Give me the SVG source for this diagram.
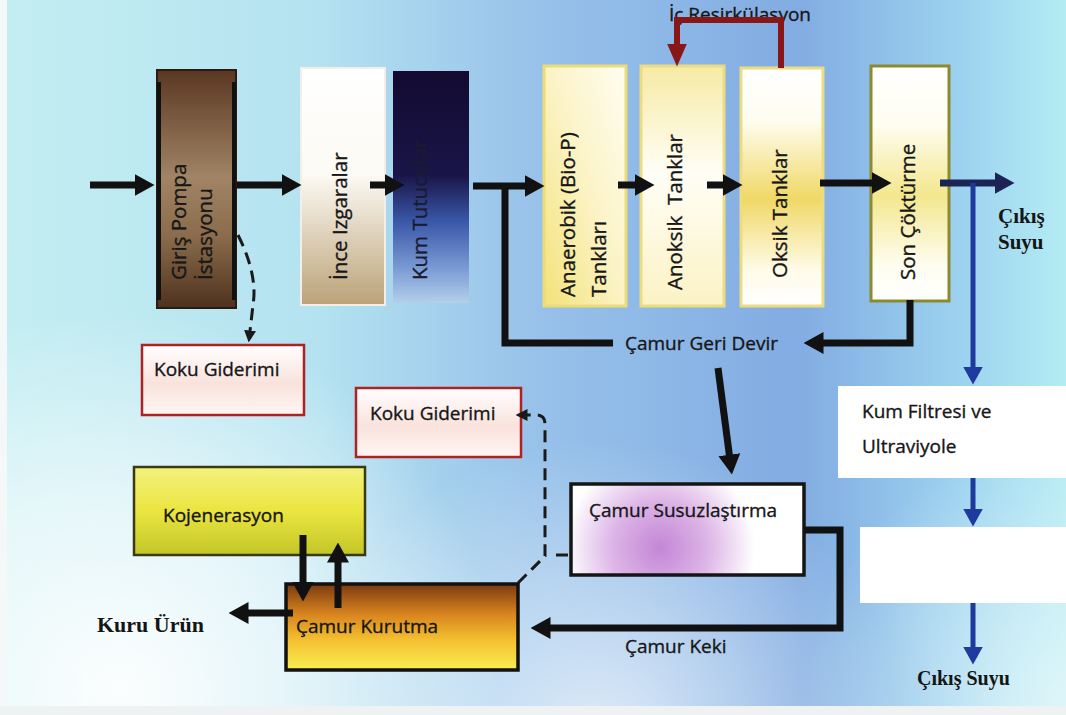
<svg xmlns="http://www.w3.org/2000/svg" width="1066" height="715" viewBox="0 0 1066 715">
<style>
.t{font-family:"Open Sans","Liberation Sans",sans-serif;font-size:19px;fill:#161616;stroke:#161616;stroke-width:0.35px}
.v{font-family:"Open Sans","Liberation Sans",sans-serif;font-size:20.5px;fill:#161616;stroke:#161616;stroke-width:0.35px}
.b{font-family:"Liberation Serif","DejaVu Serif",serif;font-weight:bold;fill:#151515}
.blk{fill:none;stroke:#111;stroke-width:7}
.blu{fill:none;stroke:#1d3a9c;stroke-width:5}
.red{fill:none;stroke:#8a1717;stroke-width:6}
.dsh{fill:none;stroke:#1a1a1a;stroke-width:3;stroke-dasharray:12 7}
</style>
<defs>
<linearGradient id="bg" x1="0" y1="0" x2="1" y2="0">
<stop offset="0" stop-color="#c4eef2"/><stop offset="0.3" stop-color="#b4e2f0"/><stop offset="0.5" stop-color="#98c2ea"/><stop offset="0.75" stop-color="#82ace2"/><stop offset="0.9" stop-color="#9cd2ef"/><stop offset="1" stop-color="#b4ecf4"/>
</linearGradient>
<radialGradient id="glow1" cx="120" cy="690" r="380" gradientUnits="userSpaceOnUse">
<stop offset="0" stop-color="#ffffff" stop-opacity="0.95"/><stop offset="0.5" stop-color="#ffffff" stop-opacity="0.6"/><stop offset="1" stop-color="#ffffff" stop-opacity="0"/>
</radialGradient>
<radialGradient id="glow2" cx="600" cy="740" r="300" gradientUnits="userSpaceOnUse">
<stop offset="0" stop-color="#ffffff" stop-opacity="0.7"/><stop offset="1" stop-color="#ffffff" stop-opacity="0"/>
</radialGradient>
<radialGradient id="glow3" cx="1066" cy="700" r="260" gradientUnits="userSpaceOnUse">
<stop offset="0" stop-color="#e8f8fa" stop-opacity="0.8"/><stop offset="1" stop-color="#e8f8fa" stop-opacity="0"/>
</radialGradient>
<linearGradient id="brown" x1="0" y1="0" x2="0" y2="1">
<stop offset="0" stop-color="#5a3722"/><stop offset="0.45" stop-color="#a08465"/><stop offset="0.7" stop-color="#8a6c4c"/><stop offset="1" stop-color="#4e311d"/>
</linearGradient>
<linearGradient id="ince" x1="0" y1="0" x2="0" y2="1">
<stop offset="0" stop-color="#ffffff"/><stop offset="0.45" stop-color="#fcfaf4"/><stop offset="1" stop-color="#bba278"/>
</linearGradient>
<linearGradient id="kum" x1="0" y1="0" x2="0" y2="1">
<stop offset="0" stop-color="#120a30"/><stop offset="0.45" stop-color="#1a1548"/><stop offset="0.65" stop-color="#3a58a8"/><stop offset="0.85" stop-color="#7a9ad4"/><stop offset="1" stop-color="#b4cfea"/>
</linearGradient>
<linearGradient id="ana" x1="0" y1="1" x2="1" y2="0">
<stop offset="0" stop-color="#f3e27a"/><stop offset="0.5" stop-color="#fbf3c4"/><stop offset="1" stop-color="#fffdf2"/>
</linearGradient>
<linearGradient id="ano" x1="0" y1="0" x2="0" y2="1">
<stop offset="0" stop-color="#f6eaa4"/><stop offset="0.45" stop-color="#fffef6"/><stop offset="1" stop-color="#fbf2c4"/>
</linearGradient>
<linearGradient id="oks" x1="0" y1="0" x2="0" y2="1">
<stop offset="0" stop-color="#ffffff"/><stop offset="0.22" stop-color="#fffdf0"/><stop offset="0.55" stop-color="#f0d866"/><stop offset="0.85" stop-color="#fffbe8"/><stop offset="1" stop-color="#ffffff"/>
</linearGradient>
<linearGradient id="son" x1="0" y1="0" x2="0" y2="1">
<stop offset="0" stop-color="#ffffff"/><stop offset="0.25" stop-color="#fffdf0"/><stop offset="0.55" stop-color="#f3e78e"/><stop offset="0.85" stop-color="#fffdf0"/><stop offset="1" stop-color="#ffffff"/>
</linearGradient>
<linearGradient id="koku" x1="0" y1="0" x2="0" y2="1">
<stop offset="0" stop-color="#ffffff"/><stop offset="0.55" stop-color="#f9e2dc"/><stop offset="1" stop-color="#fff6f3"/>
</linearGradient>
<linearGradient id="koj" x1="0" y1="0" x2="0" y2="1">
<stop offset="0" stop-color="#f3f17e"/><stop offset="0.5" stop-color="#ebe540"/><stop offset="1" stop-color="#c2c628"/>
</linearGradient>
<linearGradient id="kur" x1="0" y1="0" x2="0" y2="1">
<stop offset="0" stop-color="#7a3a10"/><stop offset="0.35" stop-color="#d8841f"/><stop offset="0.65" stop-color="#f4c030"/><stop offset="1" stop-color="#f8ee52"/>
</linearGradient>
<radialGradient id="pink" cx="660" cy="548" r="95" gradientUnits="userSpaceOnUse">
<stop offset="0" stop-color="#c486d6"/><stop offset="0.5" stop-color="#dcb4e6"/><stop offset="1" stop-color="#ffffff"/>
</radialGradient>
<marker id="ab" markerUnits="userSpaceOnUse" markerWidth="20" markerHeight="22" viewBox="0 0 20 22" refX="0.5" refY="11" orient="auto"><path d="M0,0 L20,11 L0,22 z" fill="#111"/></marker>
<marker id="an" markerUnits="userSpaceOnUse" markerWidth="20" markerHeight="22" viewBox="0 0 20 22" refX="0.5" refY="11" orient="auto"><path d="M0,0 L20,11 L0,22 z" fill="#1c2456"/></marker>
<marker id="au" markerUnits="userSpaceOnUse" markerWidth="18" markerHeight="20" viewBox="0 0 18 20" refX="0.5" refY="10" orient="auto"><path d="M0,0 L18,10 L0,20 z" fill="#1d3a9c"/></marker>
<marker id="ar" markerUnits="userSpaceOnUse" markerWidth="23" markerHeight="20" viewBox="0 0 23 20" refX="0.5" refY="10" orient="auto"><path d="M0,0 L23,10 L0,20 z" fill="#8a1717"/></marker>
<marker id="ad" markerUnits="userSpaceOnUse" markerWidth="12" markerHeight="12" viewBox="0 0 12 12" refX="0.5" refY="6" orient="auto"><path d="M0,0 L12,6 L0,12 z" fill="#1a1a1a"/></marker>
</defs>

<rect width="1066" height="715" fill="url(#bg)"/>
<rect width="1066" height="715" fill="url(#glow1)"/>
<rect width="1066" height="715" fill="url(#glow2)"/>
<rect width="1066" height="715" fill="url(#glow3)"/>
<rect x="0" y="0" width="7" height="715" fill="#f4f8f8"/>
<rect x="0" y="706" width="1066" height="9" fill="#eef2f2"/>

<g id="giris-pompa">
<rect x="157" y="70" width="79" height="238" fill="url(#brown)" stroke="#2a1a10" stroke-width="2"/>
<path d="M159,82 V300 M234,82 V300" stroke="#111" stroke-width="4"/>
<text class="v" transform="translate(186,280) rotate(-90)">Giriş Pompa</text>
<text class="v" transform="translate(212,280) rotate(-90)">İstasyonu</text>
</g>

<g id="ince-izgaralar">
<rect x="301" y="68" width="84" height="237" fill="url(#ince)" stroke="#f3efe6" stroke-width="2"/>
<text class="v" transform="translate(347,280) rotate(-90)">İnce Izgaralar</text>
</g>

<g id="kum-tutucular">
<rect x="393" y="71" width="76" height="232" fill="url(#kum)"/>
<text class="v" transform="translate(427,280) rotate(-90)" style="fill:#1a1a30;stroke:#1a1a30">Kum Tutucular</text>
</g>

<g id="anaerobik">
<rect x="544" y="66" width="82" height="240" fill="url(#ana)" stroke="#ecdc78" stroke-width="3"/>
<text class="v" transform="translate(575,297) rotate(-90)">Anaerobik (Bio-P)</text>
<text class="v" transform="translate(606,297) rotate(-90)">Tankları</text>
</g>

<g id="anoksik">
<rect x="641" y="66" width="83" height="240" fill="url(#ano)" stroke="#ecdc80" stroke-width="3"/>
<text class="v" xml:space="preserve" transform="translate(682,290) rotate(-90)">Anoksik  Tanklar</text>
</g>

<g id="oksik">
<rect x="741" y="68" width="82" height="238" fill="url(#oks)" stroke="#ecdc80" stroke-width="3"/>
<text class="v" transform="translate(787,278) rotate(-90)">Oksik Tanklar</text>
</g>

<g id="ic-resirkulasyon">
<text class="t" x="669" y="21">İç Resirkülasyon</text>
</g>

<g id="son-cokturme">
<rect x="871" y="66" width="78" height="235" fill="url(#son)" stroke="#8c8a2e" stroke-width="3"/>
<text class="v" transform="translate(915,280) rotate(-90)">Son Çöktürme</text>
</g>

<g id="cikis-suyu-1">
<text class="b" font-size="21" x="998" y="223">Çıkış</text>
<text class="b" font-size="21" x="998" y="249">Suyu</text>
</g>

<g id="camur-geri-devir">
<text class="t" x="625" y="350">Çamur Geri Devir</text>
</g>

<g id="koku-giderimi-1">
<rect x="142" y="345" width="162" height="70" fill="url(#koku)" stroke="#b02222" stroke-width="2.5"/>
<text class="t" x="154" y="376">Koku Giderimi</text>
</g>

<g id="koku-giderimi-2">
<rect x="356" y="388" width="165" height="69" fill="url(#koku)" stroke="#b02222" stroke-width="2.5"/>
<text class="t" x="370" y="420">Koku Giderimi</text>
</g>

<g id="kum-filtresi">
<rect x="838" y="386" width="240" height="92" fill="#ffffff"/>
<text class="t" x="862" y="418">Kum Filtresi ve</text>
<text class="t" x="862" y="453">Ultraviyole</text>
</g>

<g id="bos-kutu">
<rect x="860" y="527" width="220" height="76" fill="#ffffff"/>
</g>

<g id="cikis-suyu-2">
<text class="b" font-size="20" x="917" y="685">Çıkış Suyu</text>
</g>

<g id="kojenerasyon">
<rect x="134" y="467" width="231" height="88" fill="url(#koj)" stroke="#3a3a12" stroke-width="2.5"/>
<text class="t" x="163" y="522">Kojenerasyon</text>
</g>

<g id="camur-susuzlastirma">
<rect x="571" y="484" width="233" height="91" fill="url(#pink)" stroke="#151515" stroke-width="3.5"/>
<text class="t" x="589" y="517">Çamur Susuzlaştırma</text>
</g>

<g id="camur-kurutma">
<rect x="286" y="584" width="232" height="86" fill="url(#kur)" stroke="#111" stroke-width="3.5"/>
<text class="t" x="296" y="633">Çamur Kurutma</text>
</g>

<g id="camur-keki">
<text class="t" x="625" y="653">Çamur Keki</text>
</g>

<g id="kuru-urun">
<text class="b" font-size="22" x="97" y="632">Kuru Ürün</text>
</g>

<g id="connectors">
<path class="blk" d="M90,185 H135" marker-end="url(#ab)"/>
<path class="blk" d="M237,185 H282" marker-end="url(#ab)"/>
<path class="blk" d="M370,185 H385" marker-end="url(#ab)"/>
<path class="blk" d="M473,186 H525" marker-end="url(#ab)"/>
<path class="blk" d="M613,343 H505 V186"/>
<path class="blk" d="M618,185 H635" marker-end="url(#ab)"/>
<path class="blk" d="M707,185 H723" marker-end="url(#ab)"/>
<path class="blk" d="M820,183 H872" marker-end="url(#ab)"/>
<path fill="none" stroke="#1c2456" stroke-width="7" d="M940,183 H995" marker-end="url(#an)"/>
<path class="blk" d="M910,300 V343 H823" marker-end="url(#ab)"/>
<path class="blk" d="M718,368 L729.4,455.2" marker-end="url(#ab)"/>
<path class="blk" d="M804,530 H840 V628 H550" marker-end="url(#ab)"/>
<path class="blk" d="M303,535 V582" marker-end="url(#ab)"/>
<path class="blk" d="M338,608 V562" marker-end="url(#ab)"/>
<path class="blk" d="M293,613 H248" marker-end="url(#ab)"/>
<path class="blu" d="M973,183 V367" marker-end="url(#au)"/>
<path class="blu" d="M973,478 V509" marker-end="url(#au)"/>
<path class="blu" d="M973,603 V647" marker-end="url(#au)"/>
<path class="red" d="M781,68 V20 H677 V44" marker-end="url(#ar)"/>
<path class="dsh" d="M238,235 Q258,275 253,305 L250,331" marker-end="url(#ad)"/>
<path class="dsh" d="M518,583 L545,556 V424 Q545,415 536,415 L527,415" marker-end="url(#ad)"/>
<path class="dsh" d="M556,555 H570"/>
</g>
</svg>
